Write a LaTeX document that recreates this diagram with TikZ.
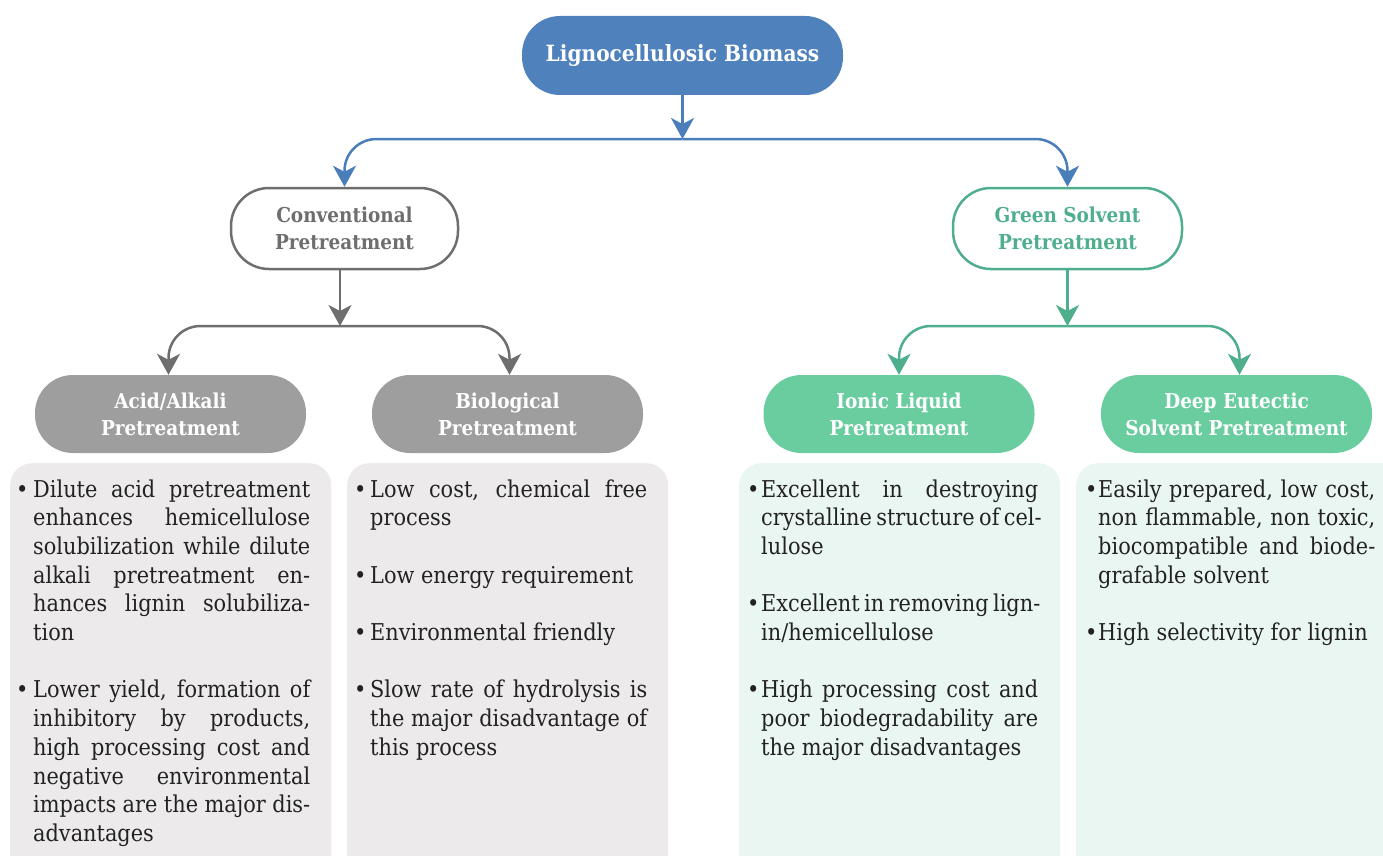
\documentclass[tikz,border=0pt]{standalone}
\usepackage{fontspec}
\setmainfont{DejaVu Serif Condensed}
\usetikzlibrary{arrows.meta}
\definecolor{bluefill}{HTML}{4F81BD}
\definecolor{blueline}{HTML}{4A7EBB}
\definecolor{grayfill}{HTML}{9E9E9E}
\definecolor{grayline}{HTML}{6E6E6E}
\definecolor{greenfill}{HTML}{6ACD9F}
\definecolor{greenline}{HTML}{4FAE8B}
\definecolor{grayback}{HTML}{ECEAEA}
\definecolor{greenback}{HTML}{EAF6F1}
\definecolor{bodytext}{HTML}{222222}
\newdimen\linew
\newdimen\bw
\newcommand{\BulFirst}[1]{\hbox to \linew{\hbox to \bw{\textbullet\hfil}#1}}
\newcommand{\BulOne}[1]{\hbox{\hbox to \bw{\textbullet\hfil}#1}}
\newcommand{\BulMid}[1]{\hbox to \linew{\hskip\bw #1}}
\newcommand{\BulLast}[1]{\hbox{\hskip\bw #1}}
\newcommand{\ParGap}{\vskip\baselineskip}
\begin{document}
\begin{tikzpicture}[x=1pt,y=-1pt,
  pill/.style={rectangle, rounded corners=38pt, inner sep=0pt, align=center,
    font={\fontsize{20.5}{27}\selectfont\bfseries}},
  topbox/.style={pill, fill=bluefill, text=white, minimum width=321pt, minimum height=79pt,
    font={\fontsize{22.4}{27}\selectfont\bfseries}},
  outlinegray/.style={pill, draw=grayline, line width=2.5pt, fill=white, text=grayline,
    minimum width=227pt, minimum height=81pt},
  outlinegreen/.style={pill, draw=greenline, line width=2.5pt, fill=white, text=greenline,
    minimum width=229pt, minimum height=81pt},
  graypill/.style={pill, fill=grayfill, text=white, minimum width=271pt, minimum height=78pt},
  greenpill/.style={pill, fill=greenfill, text=white, minimum width=271pt, minimum height=78pt},
  backbox/.style={rectangle, rounded corners=22pt, anchor=north west, inner sep=0pt,
    minimum width=321pt, minimum height=430pt},
  bodytxt/.style={anchor=base west, inner sep=0pt, text=bodytext,
    font={\fontsize{23.2}{28.7}\selectfont}},
  conn/.style={line width=2.5pt, rounded corners=32pt,
    -{Stealth[length=21pt,width=23pt,inset=6pt]}},
]
\useasboundingbox (0,0) rectangle (1383,856);

% text backgrounds
\begin{scope}
\clip (0,0) rectangle (1383,856);
\node[backbox, fill=grayback] (bg1) at (10,463) {};
\node[backbox, fill=grayback] (bg2) at (347,463) {};
\node[backbox, fill=greenback] (bg3) at (739,463) {};
\node[backbox, fill=greenback, minimum width=330pt] (bg4) at (1076,463) {};
\end{scope}

% nodes
\node[topbox] (top) at (682.5,55.5) {Lignocellulosic Biomass};
\node[outlinegray] (conv) at (344.5,228.5) {Conventional\\Pretreatment};
\node[outlinegreen] (green) at (1067.5,228.5) {Green Solvent\\Pretreatment};
\node[graypill] (acid) at (170.5,414) {Acid/Alkali\\Pretreatment};
\node[graypill] (bio) at (507.5,414) {Biological\\Pretreatment};
\node[greenpill] (ionic) at (899,414) {Ionic Liquid\\Pretreatment};
\node[greenpill] (deep) at (1236.5,414) {Deep Eutectic\\Solvent Pretreatment};

% hubs
\coordinate (hubB) at (682.5,139);
\coordinate (hubG) at (340,326);
\coordinate (hubN) at (1067.5,326);

% connectors
\draw[conn, blueline] (top.south) -- (hubB);
\draw[conn, blueline] (hubB) -| (conv.north);
\draw[conn, blueline] (hubB) -| (green.north);
\draw[conn, grayline] (conv.south -| hubG) -- (hubG);
\draw[conn, grayline] (hubG) -| ([xshift=-2pt]acid.north);
\draw[conn, grayline] (hubG) -| ([xshift=2pt]bio.north);
\draw[conn, greenline] (green.south) -- (hubN);
\draw[conn, greenline] (hubN) -| (ionic.north);
\draw[conn, greenline] (hubN) -| ([xshift=3pt]deep.north);

% body texts
\node[bodytxt] (t1) at (16,497) {\linew=294pt \bw=17pt \vtop{%
  \BulFirst{Dilute acid pretreatment}
  \BulMid{enhances hemicellulose}
  \BulMid{solubilization while dilute}
  \BulMid{alkali pretreatment en-}
  \BulMid{hances lignin solubiliza-}
  \BulLast{tion}
  \ParGap
  \BulFirst{Lower yield, formation of}
  \BulMid{inhibitory by products,}
  \BulMid{high processing cost and}
  \BulMid{negative environmental}
  \BulMid{impacts are the major dis-}
  \BulLast{advantages}}};

\node[bodytxt] (t2) at (354,497) {\linew=293pt \bw=16pt \vtop{%
  \BulFirst{Low cost, chemical free}
  \BulLast{process}
  \ParGap
  \BulOne{Low energy requirement}
  \ParGap
  \BulOne{Environmental friendly}
  \ParGap
  \BulFirst{Slow rate of hydrolysis is}
  \BulMid{the major disadvantage of}
  \BulLast{this process}}};

\node[bodytxt] (t3) at (747,497) {\linew=291pt \bw=14pt \vtop{%
  \BulFirst{Excellent in destroying}
  \BulMid{crystalline structure of cel-}
  \BulLast{lulose}
  \ParGap
  \BulFirst{Excellent in removing lign-}
  \BulLast{in/hemicellulose}
  \ParGap
  \BulFirst{High processing cost and}
  \BulMid{poor biodegradability are}
  \BulLast{the major disadvantages}}};

\node[bodytxt] (t4) at (1085,497) {\linew=290pt \bw=13pt \vtop{%
  \BulFirst{Easily prepared, low cost,}
  \BulMid{non flammable, non toxic,}
  \BulMid{biocompatible and biode-}
  \BulLast{grafable solvent}
  \ParGap
  \BulOne{High selectivity for lignin}}};
\end{tikzpicture}
\end{document}
